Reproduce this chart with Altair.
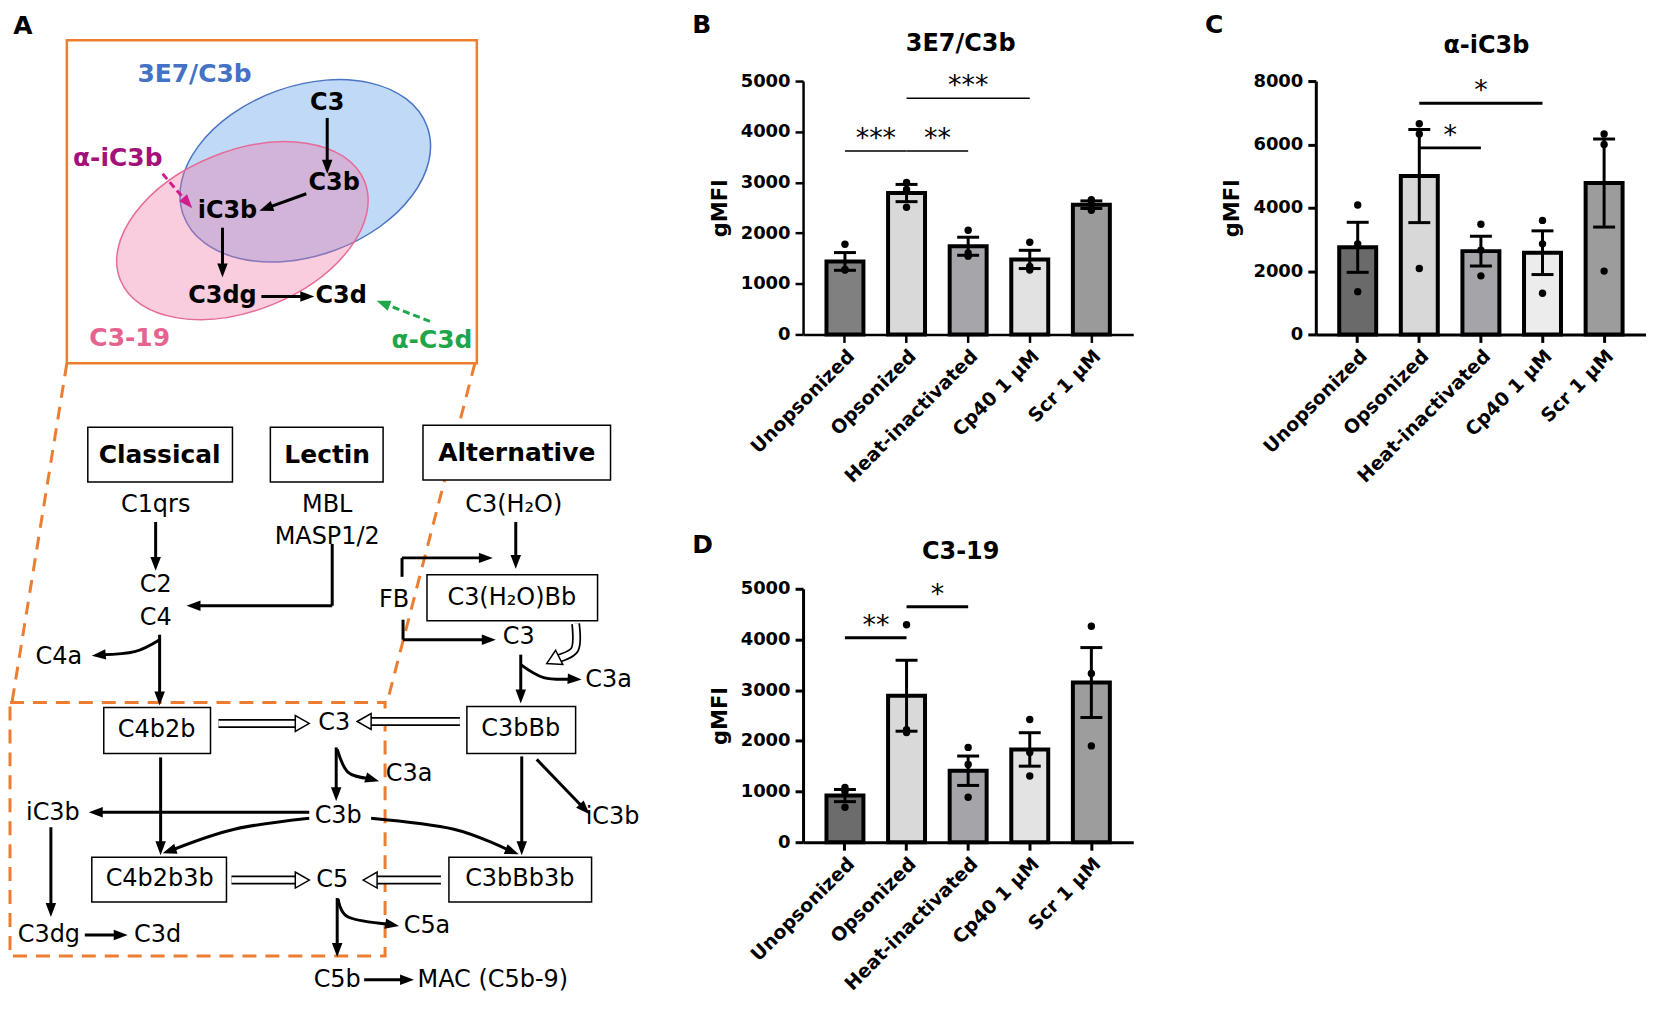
import math
import altair as alt
import pandas as pd

FONT = "DejaVu Sans"

# ---------------- bar-panel data ----------------
categories = ["Unopsonized", "Opsonized", "Heat-inactivated", "Cp40 1 µM", "Scr 1 µM"]

b_means = [1440, 2790, 1740, 1480, 2560]
b_sem = [175, 170, 178, 180, 75]
b_points = [[1780, 1280, 1270], [3000, 2860, 2510], [2055, 1610, 1545],
            [1820, 1340, 1270], [2660, 2570, 2450]]
b_sig_from = ["Unopsonized", "Opsonized", "Opsonized"]
b_sig_to = ["Opsonized", "Heat-inactivated", "Cp40 1 µM"]
b_sig_y = [3620, 3620, 4660]
b_sig_text = ["***", "**", "***"]

c_means = [2750, 5000, 2630, 2580, 4780]
c_sem = [790, 1470, 470, 690, 1390]
c_points = [[4085, 2860, 1350], [6650, 6330, 2080], [3480, 2660, 1850],
            [3600, 2860, 1300], [6330, 6000, 2000]]
c_sig_from = ["Opsonized", "Opsonized"]
c_sig_to = ["Cp40 1 µM", "Heat-inactivated"]
c_sig_y = [7300, 5890]
c_sig_text = ["*", "*"]

d_means = [920, 2890, 1410, 1830, 3150]
d_sem = [120, 700, 290, 330, 690]
d_points = [[1080, 1000, 690], [4290, 2220, 2165], [1870, 1535, 886],
            [2420, 1770, 1305], [4260, 3330, 1900]]
d_sig_from = ["Unopsonized", "Opsonized"]
d_sig_to = ["Opsonized", "Heat-inactivated"]
d_sig_y = [4035, 4646]
d_sig_text = ["**", "*"]

b_colors = ["#808080", "#d9d9d9", "#a5a5aa", "#e2e2e2", "#9a9a9a"]
c_colors = ["#6a6a6a", "#d8d8d8", "#a4a4a9", "#ececec", "#9c9c9c"]
d_colors = ["#6c6c6c", "#d9d9d9", "#a4a4a9", "#e3e3e3", "#9d9d9d"]

# ---------------- diagram (panel A) data, image pixel coordinates ----------------
top_labels = ["C3", "C3b", "iC3b", "C3dg", "C3d", "3E7/C3b", "α-iC3b", "C3-19", "α-C3d"]
top_x = [328, 335, 228, 223, 342, 195, 118, 130, 433]
top_y = [102, 182, 210, 295, 295, 73, 157, 338, 340]
top_colors = ["black", "black", "black", "black", "black", "#4472c4", "#a3117a", "#e8628f", "#1fa64a"]
top_sizes = [24, 24, 24, 24, 24, 25, 25, 25, 25]

path_labels = ["C1qrs", "MBL", "MASP1/2", "C3(H₂O)", "C2", "C4", "FB", "C3(H₂O)Bb", "C3",
               "C3a", "C4a", "C4b2b", "C3", "C3bBb", "C3a", "C3b", "iC3b", "iC3b",
               "C4b2b3b", "C5", "C3bBb3b", "C3dg", "C3d", "C5a", "C5b", "MAC (C5b-9)"]
path_x = [156, 328, 328, 515, 156, 156, 395, 513, 520,
          610, 59, 157, 335, 522, 410, 339, 53, 614,
          160, 333, 521, 49, 158, 428, 338, 494]
path_y = [505, 505, 537, 505, 585, 618, 600, 598, 637,
          680, 657, 731, 724, 730, 775, 817, 814, 818,
          880, 881, 880, 936, 936, 927, 981, 981]

pathway_names = ["Classical", "Lectin", "Alternative"]
pathway_x = [160, 328, 518]
pathway_y = [455, 455, 453]

box_x1 = [88, 271, 424, 428, 104, 468, 92, 450]
box_y1 = [427, 427, 425, 575, 708, 707, 858, 858]
box_x2 = [233, 384, 612, 599, 211, 577, 227, 593]
box_y2 = [482, 482, 480, 621, 754, 754, 903, 903]

# straight black arrows: start, end, has head
arr_x0 = [328, 307, 223, 262, 156, 333, 333, 517, 403, 403, 404, 404, 522, 160, 337, 310, 161, 523, 538, 51, 85, 338, 365]
arr_y0 = [117, 193, 227, 296, 522, 544, 606, 522, 577, 558, 620, 640, 655, 635, 748, 813, 758, 757, 760, 828, 936, 899, 981]
arr_x1 = [328, 260, 223, 315, 156, 333, 187, 517, 403, 494, 404, 497, 522, 160, 337, 89, 161, 523, 591, 51, 128, 338, 415]
arr_y1 = [173, 210, 277, 296, 571, 606, 606, 569, 558, 558, 640, 640, 704, 706, 802, 813, 856, 856, 815, 918, 936, 958, 981]
arr_head = [True, True, True, True, True, False, True, True, False, True, False, True, True, True, True, True, True, True, True, True, True, True, True]

# curved black arrows (3 points each)
curve_x = [[160, 135, 92], [522, 545, 583], [338, 349, 380], [339, 349, 400], [310, 235, 163], [372, 455, 520]]
curve_y = [[640, 652, 656], [665, 678, 680], [750, 773, 782], [900, 918, 927], [819, 830, 854], [819, 830, 855]]

# hollow arrows
hol_x = [[219, 310], [461, 358], [232, 310], [442, 364], [577, 576, 548]]
hol_y = [[724, 724], [722, 722], [881, 881], [881, 881], [624, 650, 664]]

# dashed coloured arrows
dash_x0 = [163, 431]
dash_y0 = [173, 321]
dash_x1 = [193, 377]
dash_y1 = [208, 300]
dash_colors = ["#d21d8f", "#21a64b"]

# ellipses (centre)
ell_x = [306, 243]
ell_y = [170, 230]

orange = "#ed7d31"

TRI = "M0,-1L0.75,1L-0.75,1Z"
TRI_HOLLOW = "M0,-1L1,0.75L-1,0.75Z"


def ellipse_path(k):
    c = 0.5523
    return (f"M1,0C1,{k*c:.4f} {c},{k:.4f} 0,{k:.4f}C{-c},{k:.4f} -1,{k*c:.4f} -1,0"
            f"C-1,{-k*c:.4f} {-c},{-k:.4f} 0,{-k:.4f}C{c},{-k:.4f} 1,{-k*c:.4f} 1,0Z")


def head(xa, ya, xb, yb, L):
    dx, dy = xb - xa, yb - ya
    n = math.hypot(dx, dy)
    ux, uy = dx / n, dy / n
    ang = math.degrees(math.atan2(dx, -dy)) % 360
    return xb - ux * L / 2, yb - uy * L / 2, ang, xb - ux * L * 0.7, yb - uy * L * 0.7


HL = 14
seg_rows, head_rows = [], []
for i in range(len(arr_x0)):
    x0, y0, x1, y1 = arr_x0[i], arr_y0[i], arr_x1[i], arr_y1[i]
    if arr_head[i]:
        hx, hy, ang, ex, ey = head(x0, y0, x1, y1, HL)
        head_rows.append({"x": hx, "y": hy, "a": ang, "c": "black"})
        seg_rows.append({"x": x0, "y": y0, "x2": ex, "y2": ey})
    else:
        seg_rows.append({"x": x0, "y": y0, "x2": x1, "y2": y1})

curve_rows = []
for i, (xs, ys) in enumerate(zip(curve_x, curve_y)):
    hx, hy, ang, ex, ey = head(xs[-2], ys[-2], xs[-1], ys[-1], HL)
    head_rows.append({"x": hx, "y": hy, "a": ang, "c": "black"})
    pts = list(zip(xs, ys))
    pts[-1] = (ex, ey)
    for j, (px, py) in enumerate(pts):
        curve_rows.append({"id": i, "o": j, "x": px, "y": py})

dash_rows = []
for i in range(len(dash_x0)):
    hx, hy, ang, ex, ey = head(dash_x0[i], dash_y0[i], dash_x1[i], dash_y1[i], 15)
    head_rows.append({"x": hx, "y": hy, "a": ang, "c": dash_colors[i]})
    dash_rows.append({"x": dash_x0[i], "y": dash_y0[i], "x2": ex, "y2": ey, "c": dash_colors[i]})

HH = 16
hol_rows, hol_head_rows = [], []
for i, (xs, ys) in enumerate(zip(hol_x, hol_y)):
    hx, hy, ang, ex, ey = head(xs[-2], ys[-2], xs[-1], ys[-1], HH)
    hol_head_rows.append({"x": hx, "y": hy, "a": ang})
    n = math.hypot(xs[-1] - xs[-2], ys[-1] - ys[-2])
    pts = list(zip(xs, ys))
    pts[-1] = (xs[-1] - (xs[-1] - xs[-2]) / n * HH * 0.55, ys[-1] - (ys[-1] - ys[-2]) / n * HH * 0.55)
    for j, (px, py) in enumerate(pts):
        hol_rows.append({"id": i, "o": j, "x": px, "y": py})

# Panel A plot area starts at image y=80 (level with panel B's plot); content above is drawn outside it
AX = alt.X("x:Q", scale=alt.Scale(domain=[8, 648], nice=False, zero=False), axis=None)
AY = alt.Y("y:Q", scale=alt.Scale(domain=[80, 1008], nice=False, zero=False, reverse=True), axis=None)

frame_df = pd.DataFrame({"x": [67], "y": [39], "x2": [478], "y2": [363]})
dframe_df = pd.DataFrame({"x": [10], "y": [703], "x2": [386], "y2": [957]})
zoom_df = pd.DataFrame({"x": [67, 476], "y": [363, 363], "x2": [12, 388], "y2": [703, 703]})

layers_A = []
layers_A.append(alt.Chart(frame_df).mark_rect(fill=None, stroke=orange, strokeWidth=2.5).encode(
    x=AX, y=AY, x2="x2:Q", y2="y2:Q"))
layers_A.append(alt.Chart(pd.DataFrame({"x": [ell_x[0]], "y": [ell_y[0]]})).mark_point(
    shape=ellipse_path(0.654), filled=True, fill="#c0d9f7", stroke="#4a74c4", strokeWidth=1.5,
    opacity=1, size=260 * 260, angle=340).encode(x=AX, y=AY))
layers_A.append(alt.Chart(pd.DataFrame({"x": [ell_x[1]], "y": [ell_y[1]]})).mark_point(
    shape=ellipse_path(0.606), filled=True, fill="#f07aa8", fillOpacity=0.38, stroke="#e66b96",
    strokeWidth=1.5, opacity=1, size=264 * 264, angle=338).encode(x=AX, y=AY))
layers_A.append(alt.Chart(zoom_df).mark_rule(color=orange, strokeWidth=3, strokeDash=[13, 9]).encode(
    x=AX, y=AY, x2="x2:Q", y2="y2:Q"))
layers_A.append(alt.Chart(dframe_df).mark_rect(fill=None, stroke=orange, strokeWidth=3, strokeDash=[14, 9]).encode(
    x=AX, y=AY, x2="x2:Q", y2="y2:Q"))
boxes_df = pd.DataFrame({"x": box_x1, "y": box_y1, "x2": box_x2, "y2": box_y2})
layers_A.append(alt.Chart(boxes_df).mark_rect(fill="white", stroke="black", strokeWidth=1.5).encode(
    x=AX, y=AY, x2="x2:Q", y2="y2:Q"))
layers_A.append(alt.Chart(pd.DataFrame(seg_rows)).mark_rule(color="black", strokeWidth=3).encode(
    x=AX, y=AY, x2="x2:Q", y2="y2:Q"))
layers_A.append(alt.Chart(pd.DataFrame(curve_rows)).mark_line(color="black", strokeWidth=3, interpolate="cardinal").encode(
    x=AX, y=AY, detail="id:N", order="o:Q"))
layers_A.append(alt.Chart(pd.DataFrame(dash_rows)).mark_rule(strokeWidth=3, strokeDash=[7, 4]).encode(
    x=AX, y=AY, x2="x2:Q", y2="y2:Q", color=alt.Color("c:N", scale=None)))
layers_A.append(alt.Chart(pd.DataFrame(hol_rows)).mark_line(color="black", strokeWidth=9, interpolate="cardinal").encode(
    x=AX, y=AY, detail="id:N", order="o:Q"))
layers_A.append(alt.Chart(pd.DataFrame(hol_rows)).mark_line(color="white", strokeWidth=5.5, interpolate="cardinal").encode(
    x=AX, y=AY, detail="id:N", order="o:Q"))
layers_A.append(alt.Chart(pd.DataFrame(hol_head_rows)).mark_point(
    shape=TRI_HOLLOW, filled=True, fill="white", stroke="black", strokeWidth=1.5, opacity=1, size=HH * HH).encode(
    x=AX, y=AY, angle=alt.Angle("a:Q", scale=None)))
layers_A.append(alt.Chart(pd.DataFrame(head_rows)).mark_point(
    shape=TRI, filled=True, opacity=1, size=HL * HL, strokeWidth=0).encode(
    x=AX, y=AY, angle=alt.Angle("a:Q", scale=None), color=alt.Color("c:N", scale=None)))
top_df = pd.DataFrame({"t": top_labels, "x": top_x, "y": top_y, "c": top_colors, "s": top_sizes})
layers_A.append(alt.Chart(top_df).mark_text(font=FONT, fontWeight="bold", align="center", baseline="middle").encode(
    x=AX, y=AY, text="t:N", color=alt.Color("c:N", scale=None), size=alt.Size("s:Q", scale=None)))
path_df = pd.DataFrame({"t": path_labels, "x": path_x, "y": path_y})
layers_A.append(alt.Chart(path_df).mark_text(font=FONT, fontSize=24, align="center", baseline="middle", color="black").encode(
    x=AX, y=AY, text="t:N"))
pw_df = pd.DataFrame({"t": pathway_names, "x": pathway_x, "y": pathway_y})
layers_A.append(alt.Chart(pw_df).mark_text(font=FONT, fontSize=25, fontWeight="bold", align="center", baseline="middle", color="black").encode(
    x=AX, y=AY, text="t:N"))
layers_A.append(alt.Chart(pd.DataFrame({"t": ["A"], "x": [23], "y": [25]})).mark_text(
    font=FONT, fontSize=25, fontWeight="bold", align="center", baseline="middle", color="black").encode(
    x=AX, y=AY, text="t:N"))

panel_A = alt.layer(*layers_A).properties(width=640, height=928)


# ---------- bar panels ----------
def make_panel(letter, title, means, sems, points, sig_from, sig_to, sig_y, sig_text,
               ymax, ystep, colors, axis_w, sig_w, title_x, title_y, letter_y):
    df = pd.DataFrame({"cat": categories, "mean": means,
                       "lo": [m - s for m, s in zip(means, sems)],
                       "hi": [m + s for m, s in zip(means, sems)],
                       "color": colors})
    caps = df.melt(id_vars=["cat"], value_vars=["lo", "hi"], value_name="v")
    pts = pd.DataFrame([{"cat": c, "v": v} for c, vs in zip(categories, points) for v in vs])
    idx = {c: i for i, c in enumerate(categories)}
    mids = [(idx[f] + idx[t]) / 2 for f, t in zip(sig_from, sig_to)]
    sig = pd.DataFrame({"f": sig_from, "t": sig_to, "y": sig_y, "s": sig_text,
                        "anchor": [categories[int(m)] for m in mids],
                        "half": [(m % 1) > 0 for m in mids]})

    xscale = alt.Scale(domain=categories, paddingInner=0.4, paddingOuter=0.38)
    xaxis = alt.Axis(title=None, labelAngle=-45, labelFont=FONT, labelFontSize=19, labelFontWeight="bold",
                     labelColor="black", labelLimit=400, labelPadding=4, domainColor="black",
                     domainWidth=axis_w, tickColor="black", tickWidth=axis_w, tickSize=8, grid=False)
    yscale = alt.Scale(domain=[0, ymax], nice=False)
    yaxis = alt.Axis(title="gMFI", values=list(range(0, ymax + 1, ystep)), format="d", labelFont=FONT,
                     labelFontSize=18, labelFontWeight="bold", labelColor="black", labelPadding=5,
                     titleFont=FONT, titleFontSize=21, titleFontWeight="bold", titleColor="black",
                     titlePadding=10, domainColor="black", domainWidth=axis_w, tickColor="black",
                     tickWidth=axis_w, tickSize=8, grid=False)

    def X(field):
        return alt.X(field, sort=categories, scale=xscale, axis=xaxis)

    def Y(field):
        return alt.Y(field, scale=yscale, axis=yaxis)

    bars = alt.Chart(df).mark_bar(stroke="black", strokeWidth=4).encode(
        x=X("cat:N"), y=Y("mean:Q"), color=alt.Color("color:N", scale=None))
    err = alt.Chart(df).mark_rule(color="black", strokeWidth=3).encode(
        x=X("cat:N"), y=Y("lo:Q"), y2="hi:Q")
    cap = alt.Chart(caps).mark_tick(color="black", thickness=3, size=22, opacity=1).encode(
        x=X("cat:N"), y=Y("v:Q"))
    dots = alt.Chart(pts).mark_circle(color="black", size=55, opacity=1).encode(
        x=X("cat:N"), y=Y("v:Q"))
    sig_rule = alt.Chart(sig).mark_rule(color="black", strokeWidth=sig_w).encode(
        x=X("f:N"), x2="t:N", y=Y("y:Q"))
    star_half = alt.Chart(sig).transform_filter("datum.half").mark_text(
        font=FONT, fontSize=27, baseline="alphabetic", align="center", dx=31, dy=-4, color="black").encode(
        x=X("anchor:N"), y=Y("y:Q"), text="s:N")
    star_full = alt.Chart(sig).transform_filter("!datum.half").mark_text(
        font=FONT, fontSize=27, baseline="alphabetic", align="center", dx=0, dy=-4, color="black").encode(
        x=X("anchor:N"), y=Y("y:Q"), text="s:N")
    ttl = alt.Chart(pd.DataFrame({"t": [title]})).mark_text(
        font=FONT, fontSize=24, fontWeight="bold", align="center", baseline="middle", color="black").encode(
        text="t:N", x=alt.value(title_x), y=alt.value(title_y))
    let = alt.Chart(pd.DataFrame({"t": [letter]})).mark_text(
        font=FONT, fontSize=25, fontWeight="bold", align="left", baseline="top", color="black").encode(
        text="t:N", x=alt.value(-111), y=alt.value(letter_y))
    return alt.layer(bars, err, cap, dots, sig_rule, star_half, star_full, ttl, let).properties(
        width=331, height=254)


panel_B = make_panel("B", "3E7/C3b", b_means, b_sem, b_points, b_sig_from, b_sig_to, b_sig_y, b_sig_text,
                     5000, 1000, b_colors, 2.5, 1.5, 158, -37, -68)
panel_C = make_panel("C", "α-iC3b", c_means, c_sem, c_points, c_sig_from, c_sig_to, c_sig_y, c_sig_text,
                     8000, 2000, c_colors, 3, 3, 171, -35, -68)
panel_D = make_panel("D", "C3-19", d_means, d_sem, d_points, d_sig_from, d_sig_to, d_sig_y, d_sig_text,
                     5000, 1000, d_colors, 3, 3, 158, -37, -56)

right = alt.vconcat(alt.hconcat(panel_B, panel_C, spacing=72), panel_D, spacing=46)
chart = alt.hconcat(panel_A, right, spacing=46).properties(
    padding={"top": 4, "left": 0, "right": 0, "bottom": 0}).configure_view(strokeWidth=0)

chart.save("out.html", embed_options={"renderer": "svg", "actions": False})
